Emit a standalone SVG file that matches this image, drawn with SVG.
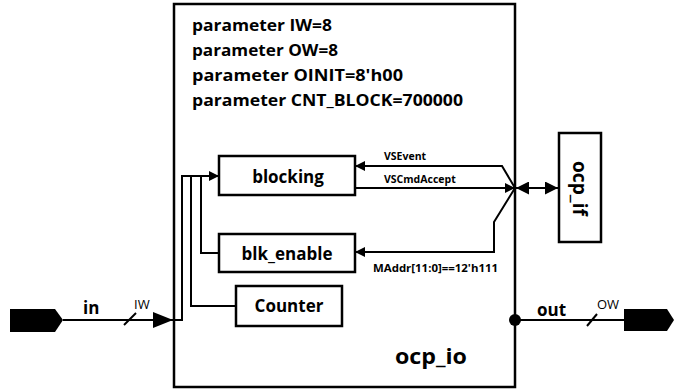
<svg xmlns="http://www.w3.org/2000/svg" width="674" height="389" viewBox="0 0 674 389">
  <style>
    .box { fill: #fff; stroke: #000; stroke-width: 2.5; }
    .wire { fill: none; stroke: #000; stroke-width: 2; }
    .t { font-family: "Open Sans", "Liberation Sans", sans-serif; font-weight: bold; fill: #000; }
    .param { font-size: 16.5px; }
    .blk { font-size: 17px; text-anchor: middle; }
    .sig { font-size: 10.5px; }
    .port { font-size: 17px; }
    .width { font-family: "Open Sans", "Liberation Sans", sans-serif; font-size: 13px; fill: #000; }
  </style>
  <defs>
    <marker id="arr" markerWidth="10" markerHeight="10" refX="10" refY="5" orient="auto" markerUnits="userSpaceOnUse" viewBox="0 0 10 10">
      <path d="M0,0 L10,5 L0,10 Z" fill="#000"/>
    </marker>
    <marker id="arrBig" markerWidth="20" markerHeight="16" refX="20" refY="8" orient="auto" markerUnits="userSpaceOnUse" viewBox="0 0 20 16">
      <path d="M0,0 L20,8 L0,16 Z" fill="#000"/>
    </marker>
    <marker id="arrBus" markerWidth="13" markerHeight="13" refX="13" refY="6.5" orient="auto-start-reverse" markerUnits="userSpaceOnUse" viewBox="0 0 13 13">
      <path d="M0,0 L13,6.5 L0,13 Z" fill="#000"/>
    </marker>
  </defs>

  <!-- top-level module -->
  <g id="ocp_io">
    <rect class="box" x="174" y="4" width="341" height="383" stroke-width="3"/>
    <text class="t param" x="192" y="31" textLength="140" lengthAdjust="spacingAndGlyphs">parameter IW=8</text>
    <text class="t param" x="192" y="56" textLength="146" lengthAdjust="spacingAndGlyphs">parameter OW=8</text>
    <text class="t param" x="192" y="81" textLength="211" lengthAdjust="spacingAndGlyphs">parameter OINIT=8'h00</text>
    <text class="t param" x="192" y="106" textLength="271" lengthAdjust="spacingAndGlyphs">parameter CNT_BLOCK=700000</text>
    <text class="t" x="395" y="364" font-size="21" textLength="72" lengthAdjust="spacingAndGlyphs">ocp_io</text>
  </g>

  <g id="blocking">
    <rect class="box" x="219" y="156" width="136" height="39"/>
    <text class="t blk" x="288" y="183">blocking</text>
  </g>

  <g id="blk_enable">
    <rect class="box" x="219" y="234" width="136" height="38"/>
    <text class="t blk" x="287" y="260">blk_enable</text>
  </g>

  <g id="counter">
    <rect class="box" x="236" y="286" width="106" height="40"/>
    <text class="t blk" x="289" y="312">Counter</text>
  </g>

  <g id="ocp_if">
    <rect class="box" x="559" y="133" width="42" height="109"/>
    <text class="t" x="-27" y="0" font-size="19" textLength="55" lengthAdjust="spacingAndGlyphs" transform="translate(573,188) rotate(90)">ocp_if</text>
  </g>

  <g id="in_port">
    <path d="M10,309 L55,309 L63,320 L55,332 L10,332 Z" fill="#000"/>
  </g>

  <g id="out_port">
    <path d="M624,309 L667,309 L674,320 L667,331 L624,331 Z" fill="#000"/>
  </g>

  <g id="connectors">
    <!-- input bus -->
    <line class="wire" x1="63" y1="320" x2="173" y2="320" stroke-width="2.5" marker-end="url(#arrBig)"/>
    <line class="wire" x1="124" y1="325" x2="136" y2="313"/>
    <text class="t port" x="83" y="314">in</text>
    <text class="width" x="134" y="309">IW</text>

    <!-- internal fan-out -->
    <polyline class="wire" points="173,320 182,320 182,176 219,176" marker-end="url(#arr)"/>
    <polyline class="wire" points="191,176 191,306 236,306"/>
    <polyline class="wire" points="201,176 201,253 219,253"/>

    <!-- ocp_if signals -->
    <polyline class="wire" points="515,188 502,166 355,166" marker-end="url(#arr)"/>
    <line class="wire" x1="355" y1="188" x2="515" y2="188" marker-end="url(#arr)"/>
    <polyline class="wire" points="515,188 494,222 494,252 355,252" marker-end="url(#arr)"/>
    <text class="t sig" x="384" y="160">VSEvent</text>
    <text class="t sig" x="384" y="183">VSCmdAccept</text>
    <text class="t sig" x="373" y="272" textLength="125" lengthAdjust="spacingAndGlyphs">MAddr[11:0]==12'h111</text>

    <!-- bidirectional bus to ocp_if -->
    <line class="wire" x1="516" y1="188" x2="558" y2="188" stroke-width="4" marker-start="url(#arrBus)" marker-end="url(#arrBus)"/>

    <!-- output bus -->
    <circle cx="515" cy="320" r="6" fill="#000"/>
    <line class="wire" x1="515" y1="320" x2="624" y2="320" stroke-width="2.5"/>
    <line class="wire" x1="587" y1="326" x2="597" y2="314"/>
    <text class="t port" x="537" y="316">out</text>
    <text class="width" x="597" y="309">OW</text>
  </g>
</svg>
